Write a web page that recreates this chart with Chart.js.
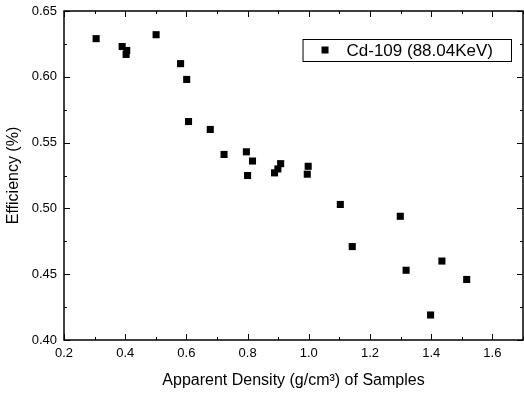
<!DOCTYPE html>
<html>
<head>
<meta charset="utf-8">
<script src="https://cdn.jsdelivr.net/npm/chart.js@4.4.1/dist/chart.umd.min.js"></script>
<style>
  html, body { margin: 0; padding: 0; background: #fff; overflow: hidden; }
  #wrap { position: relative; width: 524px; height: 395px; }
  canvas { display: block; }
</style>
</head>
<body>
<div id="wrap"><canvas id="effChart"></canvas></div>
<script>
// Data
const seriesLabel = "Cd-109 (88.04KeV)";
const density = [0.305, 0.390, 0.405, 0.403, 0.501, 0.581, 0.601, 0.607, 0.678, 0.723, 0.796, 0.800, 0.816,
                 0.888, 0.899, 0.908, 0.998, 0.995, 1.103, 1.142, 1.299, 1.318, 1.398, 1.435, 1.516];
const efficiency = [0.629, 0.623, 0.620, 0.617, 0.632, 0.610, 0.598, 0.566, 0.560, 0.541, 0.543, 0.525, 0.536,
                    0.527, 0.530, 0.534, 0.532, 0.526, 0.503, 0.471, 0.494, 0.453, 0.419, 0.460, 0.446];
const xTicks = [0.2, 0.4, 0.6, 0.8, 1.0, 1.2, 1.4, 1.6];
const yTicks = [0.40, 0.45, 0.50, 0.55, 0.60, 0.65];

const FONT = "'Liberation Sans', Arial, sans-serif";

// inward ticks on all four sides, plus the in-plot legend box
const frameTicks = {
    id: "frameTicks",
    afterDraw(chart) {
        const { ctx, chartArea: a, scales } = chart;
        const xs = scales.x, ys = scales.y;
        ctx.save();
        ctx.strokeStyle = "#000";
        ctx.lineWidth = 1;

        // x ticks (major every 0.2, minor every 0.1)
        for (let i = 2; i <= 17; i++) {
            const v = i / 10;
            const px = Math.round(xs.getPixelForValue(v)) + 0.5;
            const len = (i % 2 === 0) ? 6 : 3;
            ctx.beginPath();
            ctx.moveTo(px, a.bottom); ctx.lineTo(px, a.bottom - len);
            ctx.moveTo(px, a.top); ctx.lineTo(px, a.top + len);
            ctx.stroke();
        }
        // y ticks (major every 0.05, minor every 0.025)
        for (let i = 0; i <= 10; i++) {
            const v = 0.40 + i * 0.025;
            const py = Math.round(ys.getPixelForValue(v)) + 0.5;
            const len = (i % 2 === 0) ? 6 : 3;
            ctx.beginPath();
            ctx.moveTo(a.left, py); ctx.lineTo(a.left + len, py);
            ctx.moveTo(a.right, py); ctx.lineTo(a.right - len, py);
            ctx.stroke();
        }

        // frame
        ctx.lineWidth = 1.5;
        ctx.strokeRect(a.left, a.top, a.right - a.left, a.bottom - a.top);

        // legend
        ctx.font = "17px " + FONT;
        const tw = ctx.measureText(seriesLabel).width;
        const boxW = 44 + tw + 18;
        const boxH = 22;
        const bx = a.right - 12 - boxW;
        const by = a.top + 28;
        ctx.lineWidth = 1;
        ctx.fillStyle = "#fff";
        ctx.fillRect(bx, by, boxW, boxH);
        ctx.strokeRect(bx + 0.5, by + 0.5, boxW, boxH);
        ctx.fillStyle = "#000";
        ctx.fillRect(bx + 19, by + boxH / 2 - 3.5, 7, 7);
        ctx.textBaseline = "middle";
        ctx.textAlign = "left";
        ctx.fillText(seriesLabel, bx + 44, by + boxH / 2 + 1);
        ctx.restore();
    }
};

const ctx = document.getElementById("effChart").getContext("2d");
new Chart(ctx, {
    type: "scatter",
    data: {
        datasets: [{
            label: seriesLabel,
            data: density.map((d, i) => ({ x: d, y: efficiency[i] })),
            pointStyle: "rect",
            pointRadius: 5,
            pointHoverRadius: 5,
            backgroundColor: "#000",
            borderColor: "#000",
            borderWidth: 0
        }]
    },
    options: {
        responsive: true,
        maintainAspectRatio: false,
        animation: false,
        layout: { autoPadding: false, padding: { top: 11, right: 1, left: 0, bottom: 0 } },
        plugins: {
            legend: { display: false },
            tooltip: { enabled: false }
        },
        scales: {
            x: {
                type: "linear",
                min: 0.2,
                max: 1.7,
                afterFit: (s) => { s.height = 55; s.paddingLeft = 0; s.paddingRight = 0; },
                afterBuildTicks: (s) => { s.ticks = xTicks.map(v => ({ value: v })); },
                grid: { display: false, drawTicks: false },
                border: { display: false },
                ticks: {
                    padding: 6,
                    color: "#000",
                    font: { family: FONT, size: 13 },
                    callback: (v) => v.toFixed(1)
                },
                title: {
                    display: true,
                    text: "Apparent Density (g/cm³) of Samples",
                    color: "#000",
                    font: { family: FONT, size: 16 },
                    padding: { top: 0, bottom: 5 }
                }
            },
            y: {
                type: "linear",
                min: 0.40,
                max: 0.65,
                afterFit: (s) => { s.width = 64; s.paddingTop = 0; s.paddingBottom = 0; },
                afterBuildTicks: (s) => { s.ticks = yTicks.map(v => ({ value: v })); },
                grid: { display: false, drawTicks: false },
                border: { display: false },
                ticks: {
                    padding: 7,
                    color: "#000",
                    font: { family: FONT, size: 13 },
                    callback: (v) => v.toFixed(2)
                },
                title: {
                    display: true,
                    text: "Efficiency (%)",
                    color: "#000",
                    font: { family: FONT, size: 16 },
                    padding: { top: 4, bottom: 0 }
                }
            }
        }
    },
    plugins: [frameTicks]
});
</script>
</body>
</html>
